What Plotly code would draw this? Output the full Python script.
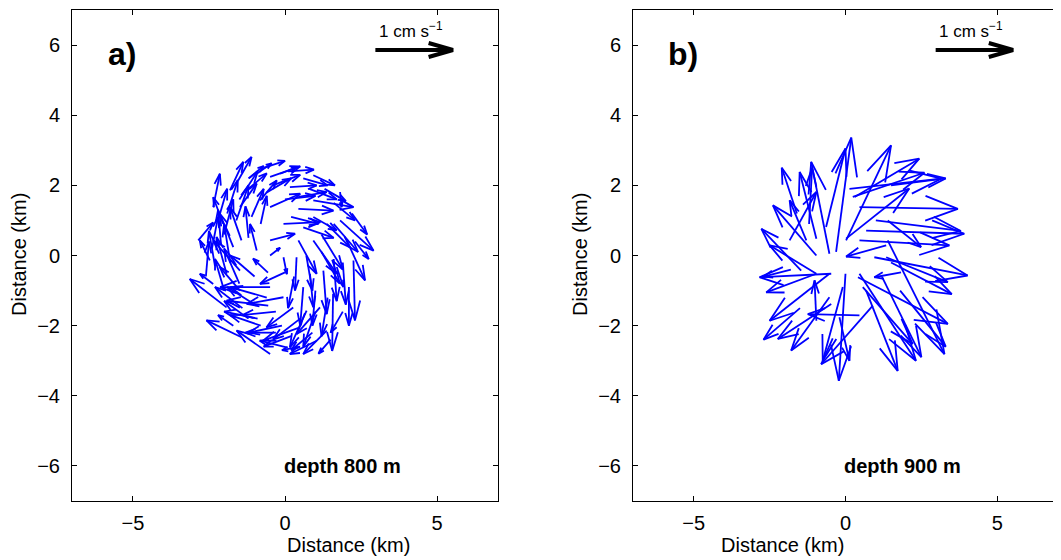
import plotly.graph_objects as go

# ---------------- data: panel a (depth 800 m) ----------------
a_x = [-2.36, -1.81, -1.54, -0.93, -0.49, -0.16, 0.93, 0.16, 0.44, 0.93, -0.49, -0.82, -1.26, -1.48, 1.81,
       0.44, 0.93, -0.05, -0.49, -0.49, 1.37, 1.81, 2.03, 2.25, 0.93, 0.44, 0.38, 0.82, 1.26, 1.70,
       1.58, -0.05, 0.00, -0.56, -1.43, -0.49, 0.05, 0.49, 1.04, 1.37, 0.71, -0.55, -0.49, -0.05, 0.27,
       1.15, -1.92, -2.36, -1.48, -2.47, -2.03, -1.92, -1.70, -1.43, -0.93, -1.48, -2.85, -2.20, -1.90, -1.60,
       -1.20, -0.70, 0.10, 0.60, 1.30, 1.60, 2.20, 2.30, 1.90, 2.10, 1.00, 1.90, 0.90, 0.20, -0.30,
       -0.80, -1.20, -2.00, -2.30, -2.10, -1.00, 0.60, 1.20, 0.20, -1.10, -0.40, 1.50, 0.50, -1.70, -0.30,
       -2.60, -2.40, -1.80, -1.50, -1.00, -0.60, -1.40, -0.90, -0.10, 0.50, 1.00, 1.40, 1.60, 1.20, 1.60,
       0.80, 0.00, -0.60, -1.50, -2.00, -1.20, -0.80, 0.60, 0.70, 0.30]
a_y = [1.38, 1.86, 2.14, 2.33, 2.24, 2.33, 2.29, 1.95, 1.67, 1.57, 1.38, 1.57, 1.86, 1.38, 1.81,
       1.33, 1.10, 0.90, 0.43, 0.00, 0.90, 1.00, 0.43, -0.14, 0.43, 0.43, -0.05, -0.52, -0.43, -0.33,
       -1.09, -0.05, -0.48, -0.49, -2.33, -2.81, -2.62, -2.05, -2.43, -2.14, -1.57, -1.43, -0.90, -1.19, -1.48,
       -1.48, -1.48, -0.81, -0.43, -0.14, 0.90, -0.52, 0.24, 0.43, 0.14, -1.00, 0.43, 1.00, 1.20, 1.00,
       2.20, 2.50, 2.40, 2.20, 1.90, 1.50, 1.20, 0.40, -0.20, -0.90, -1.00, -1.60, -2.20, -2.30, -2.20,
       -2.00, -1.80, -1.00, -0.30, 0.30, -1.40, -0.90, 0.10, 1.10, 1.10, 2.00, -2.40, -2.60, -2.00, -1.60,
       -0.60, 0.20, -0.20, -0.80, -0.60, -1.20, -1.50, -1.80, -2.00, -1.80, -1.60, -1.20, -0.10, 0.60, 0.90,
       1.90, 1.60, 1.80, 1.60, 0.60, 0.50, 0.90, 0.80, 0.00, -0.60]
a_u = [0.22, 0.44, 0.44, 0.49, 0.99, 0.55, 0.71, 0.88, 0.93, 1.32, 0.99, 0.55, 0.66, 0.55, 0.05,
       1.15, 0.77, 1.21, 0.82, 0.33, 0.77, 1.10, 0.60, 0.05, 0.77, 0.60, -0.05, 0.11, 0.11, 0.22,
       -0.03, 0.11, -0.82, -0.49, -1.15, -1.10, -0.88, -1.21, -0.88, -0.77, -0.55, -1.37, -1.64, -1.21, -0.88,
       -0.77, -1.21, -0.44, -0.88, -0.33, -0.33, -0.33, -0.44, -0.38, -0.22, -0.66, 0.49, 0.30, 0.35, 0.40,
       0.50, 0.70, 0.85, 0.80, 0.70, 0.70, 0.50, 0.45, 0.10, 0.00, -0.10, -0.40, -0.70, -0.90, -1.00,
       -1.00, -0.80, -0.30, -0.20, -0.10, -0.90, -0.10, 0.60, 0.90, 0.40, 0.90, -0.40, -0.60, -0.50, -1.10,
       0.10, 0.20, -0.20, -0.50, -0.80, -1.20, -0.90, -1.10, -1.10, -0.90, -0.40, -0.20, 0.10, 0.70, 0.80,
       0.90, 1.00, 0.80, 0.60, 0.30, -0.10, 0.20, 1.00, 0.20, -0.20]
a_v = [0.95, 0.81, 0.67, 0.30, 0.30, 0.19, -0.29, 0.05, 0.14, -0.19, 0.38, 0.57, 0.48, 0.67, -0.43,
       -0.05, -0.38, 0.05, 0.19, 0.22, -0.67, -0.86, -1.14, -1.71, -0.95, -0.95, -0.95, -0.95, -1.24, -0.57,
       -1.63, -0.48, -0.33, 0.40, 0.48, 0.67, 0.19, -0.38, -0.38, -0.67, -1.05, 0.14, 0.00, -0.19, -0.57,
       -0.76, 0.81, 0.29, 0.86, 0.57, 0.76, 1.05, 0.95, 0.95, 0.76, 0.67, 0.51, 0.90, 0.95, 1.00,
       0.35, 0.20, 0.05, -0.20, -0.35, -0.50, -0.60, -0.50, -1.20, -1.10, -1.00, -0.60, -0.50, -0.30, 0.00,
       0.30, 0.50, 0.90, 1.00, 1.00, 0.50, -1.10, -0.90, -0.20, 0.80, 0.30, -0.40, -0.10, 0.30, -0.10,
       1.00, 0.90, 1.10, 1.00, 0.60, 0.30, 0.60, 0.20, -0.20, -0.60, -1.00, -1.10, -1.20, -1.00, -0.80,
       -0.30, 0.10, 0.40, 0.80, 1.00, 0.90, 0.80, -0.30, -1.00, -0.90]

# ---------------- data: panel b (depth 900 m) ----------------
b_x = [-0.31, -0.64, 0.02, 0.30, 0.13, 0.46, 0.68, 0.95, 0.41, 1.39, 0.46, 0.68, 0.00, 0.90, -0.53,
       -0.47, -0.53, -0.96, -0.47, -1.46, -0.96, -0.96, -0.53, 1.83, 1.34, -0.96, 0.46, -1.84, -0.20, 0.02,
       1.39, 0.24, 0.46, 1.34, -1.29, -0.96, -0.09, 0.57,
       -1.20, 1.80, 1.20, -1.80, -1.50, -1.60, 1.50, 1.00, 1.50]
b_y = [0.10, 0.81, 0.43, 1.67, 1.90, 1.38, 0.71, -0.05, -0.62, 0.43, -0.52, -1.00, -0.52, -1.43, -1.19,
       -1.38, -0.52, -0.52, -0.52, -0.43, 0.00, 0.48, 0.05, -0.48, 0.29, -1.86, -1.71, 0.43, -1.76, 0.48,
       1.00, 1.67, 0.43, -0.05, 0.43, -0.52, -0.90, -0.90,
       0.90, -1.00, -0.60, -0.40, -1.50, 1.20, 2.00, 1.00, -0.20]
b_u = [0.50, 0.64, 1.48, 2.13, 3.02, 3.24, 3.23, 3.07, 2.96, 1.87, 1.86, 1.04, -0.22, -1.70, -1.26,
       -1.76, -1.97, -1.65, -2.36, -1.31, -1.43, -0.55, -0.60, -0.88, -1.32, -0.06, -1.70, 0.88, 0.33, 2.08,
       1.10, 2.36, 2.96, 2.03, -0.55, -1.54, -0.66, 1.64,
       0.10, 1.50, 1.30, -0.90, -1.20, -0.50, 1.80, 2.80, 2.00]
b_v = [3.26, 2.24, 2.71, 1.09, 0.29, -0.05, -0.09, -0.52, -1.33, -3.24, -2.48, -2.29, -3.05, -1.67, -1.52,
       -1.00, -1.34, -0.53, -0.10, 1.19, 1.43, 1.90, 2.62, -0.14, -0.32, 1.15, 0.04, 1.38, -1.24, 1.43,
       -0.76, 0.69, -0.14, -0.71, 1.14, 0.81, -2.10, -1.62,
       1.60, -1.60, -2.30, -0.20, -0.90, 1.30, 0.20, -0.30, -0.90]

x_ticks = [-5, 0, 5]
y_ticks = [-6, -4, -2, 0, 2, 4, 6]
panel_labels = ["a)", "b)"]
depth_labels = ["depth 800 m", "depth 900 m"]
scale_label = "1 cm s<sup>\u22121</sup>"
scale_len = [2.55]      # reference arrow length in km
scale_start = [2.97, 5.86]

ALPHA, BETA = 0.33, 0.33

# the page body has an 8px margin, so the figure is placed at (8, 8)
W, H, OFF = 1053, 552, 8


def quiver_lines(xs, ys, us, vs):
    lx, ly = [], []
    for x, y, u, v in zip(xs, ys, us, vs):
        tx, ty = x + u, y + v
        b1x, b1y = tx - ALPHA * (u + BETA * v), ty - ALPHA * (v - BETA * u)
        b2x, b2y = tx - ALPHA * (u - BETA * v), ty - ALPHA * (v + BETA * u)
        lx += [x, tx, None, b1x, tx, b2x, None]
        ly += [y, ty, None, b1y, ty, b2y, None]
    return lx, ly


fig = go.Figure()
panels = [(a_x, a_y, a_u, a_v), (b_x, b_y, b_u, b_v)]
for i, (xs, ys, us, vs) in enumerate(panels):
    lx, ly = quiver_lines(xs, ys, us, vs)
    xa = "x" if i == 0 else "x2"
    ya = "y" if i == 0 else "y2"
    fig.add_trace(go.Scatter(x=lx, y=ly, mode="lines", xaxis=xa, yaxis=ya,
                             line=dict(color="#0000ff", width=1.8), hoverinfo="skip",
                             showlegend=False))
    # scale arrow
    sx, sy = scale_start
    L = scale_len[0]
    hx = [sx, sx + L, None, sx + L - 0.8, sx + L, sx + L - 0.8]
    hy = [sy, sy, None, sy + 0.2, sy, sy - 0.2]
    fig.add_trace(go.Scatter(x=hx, y=hy, mode="lines", xaxis=xa, yaxis=ya,
                             line=dict(color="black", width=4), hoverinfo="skip",
                             showlegend=False))
    fig.add_annotation(x=sx + L / 2 - 0.12, y=sy + 0.2, xref=xa, yref=ya, text=scale_label,
                       showarrow=False, yanchor="bottom", font=dict(size=17, color="black"))
    fig.add_annotation(x=-5.36, y=5.75, xref=xa, yref=ya, text="<b>%s</b>" % panel_labels[i],
                       showarrow=False, xanchor="center", yanchor="middle",
                       font=dict(size=32, color="black"))
    fig.add_annotation(x=1.88, y=-6.0, xref=xa, yref=ya, text="<b>%s</b>" % depth_labels[i],
                       showarrow=False, xanchor="center", yanchor="middle",
                       font=dict(size=20, color="black"))

axis_common = dict(showline=True, linecolor="black", linewidth=1, mirror="ticks",
                   ticks="inside", ticklen=5, tickcolor="black", showgrid=False,
                   zeroline=False, tickfont=dict(size=20, color="black"))
xd1 = [(72 - OFF) / W, (498 - OFF) / W]
xd2 = [(633 - OFF) / W, (1058 - OFF) / W]
yd = [1 - (501 - OFF) / H, 1 - (10 - OFF) / H]

fig.update_layout(
    width=W, height=H, margin=dict(l=0, r=0, t=0, b=0),
    paper_bgcolor="white", plot_bgcolor="white",
    font=dict(family="Liberation Sans, Arial, sans-serif", color="black"),
    xaxis=dict(domain=xd1, range=[-7, 7], tickvals=x_ticks, anchor="y", ticklabelstandoff=4,
               **axis_common),
    yaxis=dict(domain=yd, range=[-7, 7], tickvals=y_ticks, anchor="x", ticklabelstandoff=7,
               **axis_common),
    xaxis2=dict(domain=xd2, range=[-7, 7], tickvals=x_ticks, anchor="y2", ticklabelstandoff=4,
                **axis_common),
    yaxis2=dict(domain=yd, range=[-7, 7], tickvals=y_ticks, anchor="x2", ticklabelstandoff=7,
                **axis_common),
)

# axis titles
for xc in [(xd1[0] + xd1[1]) / 2, (xd2[0] + xd2[1]) / 2]:
    fig.add_annotation(x=xc, y=1 - (545 - OFF) / H, xref="paper", yref="paper", text="Distance (km)",
                       showarrow=False, font=dict(size=20, color="black"), yanchor="middle")
for xp in [(19 - OFF) / W, (580 - OFF) / W]:
    fig.add_annotation(x=xp, y=1 - (255 - OFF) / H, xref="paper", yref="paper", text="Distance (km)",
                       showarrow=False, textangle=-90, font=dict(size=20, color="black"),
                       xanchor="center", yanchor="middle")

fig.write_html("out.html")
